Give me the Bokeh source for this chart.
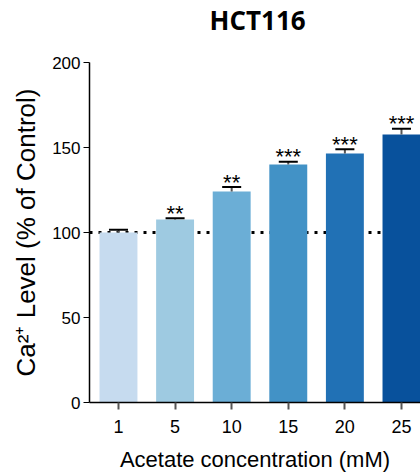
from bokeh.plotting import figure
from bokeh.models import ColumnDataSource, FixedTicker, Span, Title
from bokeh.embed import file_html
from bokeh.resources import INLINE
from bokeh.core.properties import value

# Acetate concentrations (mM) and intracellular Ca2+ (% of control)
concentrations = ["1", "5", "10", "15", "20", "25"]
ca_level = [100.0, 107.6, 124.1, 140.0, 146.5, 157.6]
ca_sem = [1.6, 0.8, 2.6, 1.6, 2.5, 3.4]
significance = ["", "**", "**", "***", "***", "***"]
bar_colors = ["#c6dbef", "#9ecae1", "#6baed6", "#4292c6", "#2171b5", "#08519c"]
y_ticks = [0, 50, 100, 150, 200]
control_level = 100
cell_line = "HCT116"

pos = list(range(len(concentrations)))
tops = [m + e for m, e in zip(ca_level, ca_sem)]

src = ColumnDataSource(dict(
    x=pos, top=ca_level, err_top=tops, color=bar_colors, stars=significance,
    cap_l=[x - 0.168 for x in pos], cap_r=[x + 0.168 for x in pos],
))

p = figure(width=420, height=475, output_backend="svg", toolbar_location=None,
           x_range=(-0.512, 5.336), y_range=(0, 200),
           min_border_left=89, min_border_right=0, min_border_top=62,
           min_border_bottom=73, title=None)
p.outline_line_color = None
p.grid.visible = False
p.background_fill_color = "white"
p.border_fill_color = "white"

# gap between the heading and the plotting area
p.add_layout(Title(text=" ", text_font_size="2px", standoff=19), "above")
# chart heading
p.add_layout(Title(text=cell_line, align="left", offset=120, vertical_align="top",
                   standoff=0, text_font="Open Sans", text_font_style="bold",
                   text_font_size="26px", text_color="black"), "above")

# reference line at 100 % of control, behind the bars
p.add_layout(Span(location=control_level, dimension="width", line_color="black",
                  line_width=3, line_dash="3 6", level="underlay"))

p.vbar(x="x", top="top", bottom=0, width=0.67, fill_color="color",
       line_color=None, source=src)

# upper error bars
p.segment(x0="x", y0="top", x1="x", y1="err_top", line_color="#555555",
          line_width=2, source=src)
p.segment(x0="cap_l", y0="err_top", x1="cap_r", y1="err_top", line_color="black",
          line_width=2, source=src)

# significance marks
p.text(x="x", y="err_top", text="stars", source=src, text_align="center",
       text_baseline="alphabetic", y_offset=-5, text_font=value("Liberation Sans"),
       text_font_size="22px", text_color="black")

# axes
xa = p.xaxis[0]
xa.ticker = FixedTicker(ticks=pos)
xa.major_label_overrides = {i: c for i, c in enumerate(concentrations)}
xa.minor_tick_line_color = None
xa.major_tick_in = 0
xa.major_tick_out = 7
xa.major_tick_line_color = "#555555"
xa.major_tick_line_width = 2
xa.axis_line_color = "black"
xa.axis_line_width = 1.5
xa.major_label_text_font = "Liberation Sans"
xa.major_label_text_font_size = "18px"
xa.major_label_text_color = "black"
xa.major_label_standoff = 10
xa.axis_label = "Acetate concentration (mM)"
xa.axis_label_text_font = "Liberation Sans"
xa.axis_label_text_font_size = "22px"
xa.axis_label_text_font_style = "normal"
xa.axis_label_text_color = "black"
xa.axis_label_standoff = 11

ya = p.yaxis[0]
ya.ticker = FixedTicker(ticks=y_ticks)
ya.minor_tick_line_color = None
ya.major_tick_in = 0
ya.major_tick_out = 6
ya.major_tick_line_color = "black"
ya.axis_line_color = "black"
ya.axis_line_width = 1.5
ya.major_label_text_font = "Liberation Sans"
ya.major_label_text_font_size = "17px"
ya.major_label_text_color = "black"
ya.major_label_standoff = 3
ya.axis_label = "Ca\u00b2\u207a Level (% of Control)"
ya.axis_label_text_font = "Liberation Sans"
ya.axis_label_text_font_size = "26px"
ya.axis_label_text_font_style = "normal"
ya.axis_label_text_color = "black"
ya.axis_label_standoff = 8

open("out.html", "w").write(file_html(p, INLINE))
